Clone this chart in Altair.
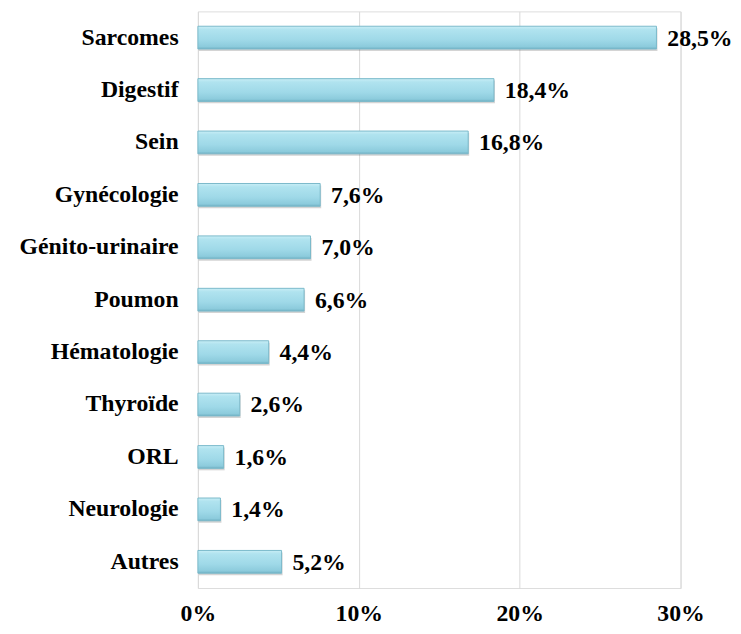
import altair as alt
import pandas as pd

categories = ["Sarcomes", "Digestif", "Sein", "Gynécologie", "Génito-urinaire",
              "Poumon", "Hématologie", "Thyroïde", "ORL", "Neurologie", "Autres\u00a0"]
values = [28.5, 18.4, 16.8, 7.6, 7.0, 6.6, 4.4, 2.6, 1.6, 1.4, 5.2]
labels = ["28,5%", "18,4%", "16,8%", "7,6%", "7,0%", "6,6%", "4,4%", "2,6%",
          "1,6%", "1,4%", "5,2%"]
ticks = [0, 0.1, 0.2, 0.3]

df = pd.DataFrame({
    "cat": categories,
    "val": [v / 100 for v in values],
    "lab": labels,
})

FONT = "Liberation Serif"

x = alt.X("val:Q", scale=alt.Scale(domain=[0, 0.3], nice=False, zero=True),
          axis=alt.Axis(values=ticks, format=".0%", title=None, grid=True,
                        gridColor="#d9d9d9", gridWidth=1, domain=False,
                        ticks=False, labelFont=FONT, labelFontSize=24,
                        labelFontWeight="bold", labelColor="#000000",
                        labelPadding=14, labelFlush=False))
y = alt.Y("cat:N", sort=categories,
          scale=alt.Scale(paddingInner=0, paddingOuter=0),
          axis=alt.Axis(title=None, domain=False, ticks=False,
                        labelFont=FONT, labelFontSize=24,
                        labelFontWeight="bold", labelColor="#000000",
                        labelPadding=20))

base = alt.Chart(df)

shadow = base.mark_bar(size=23, color="#555555", opacity=0.25,
                       xOffset=1, yOffset=2).encode(x=x, y=y)

grad = alt.Gradient(
    gradient="linear",
    stops=[
        alt.GradientStop(offset=0, color="#c9eef6"),
        alt.GradientStop(offset=0.15, color="#b0e3ef"),
        alt.GradientStop(offset=0.6, color="#9fd9e8"),
        alt.GradientStop(offset=0.9, color="#8ccbdc"),
        alt.GradientStop(offset=1, color="#6fb0c3"),
    ],
    x1=0, x2=0, y1=0, y2=1,
)

bars = base.mark_bar(size=23, fill=grad, stroke="#7ab9ca",
                     strokeWidth=1).encode(x=x, y=y)

text = base.mark_text(align="left", baseline="middle", dx=11, dy=1, font=FONT,
                      fontSize=24, fontWeight="bold", color="#000000").encode(
    x=alt.X("val:Q"), y=alt.Y("cat:N", sort=categories), text="lab:N")

chart = alt.layer(shadow, bars, text).properties(
    width=488, height=583,
    padding={"left": 11, "top": 0, "right": 0, "bottom": 0},
).configure_view(stroke=None).configure(background="#ffffff")

chart.save("out.html", embed_options={"renderer": "svg", "actions": False})
